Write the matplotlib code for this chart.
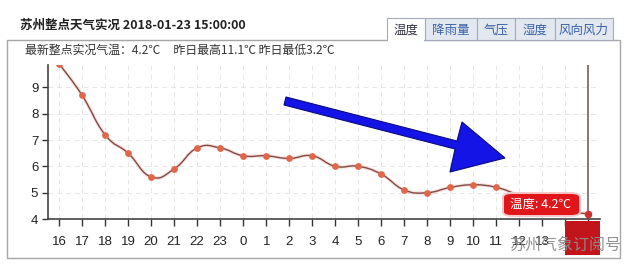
import matplotlib

matplotlib.use("Agg")
import matplotlib.pyplot as plt
import numpy as np
from matplotlib.patches import FancyBboxPatch, Polygon, Rectangle
from matplotlib.path import Path
from matplotlib.patches import PathPatch

CJK = ["Noto Sans CJK SC", "DejaVu Sans"]
LATIN = ["Liberation Sans", "DejaVu Sans"]

hours = [16, 17, 18, 19, 20, 21, 22, 23, 0, 1, 2, 3, 4, 5, 6, 7, 8, 9, 10, 11, 12, 13, 14, 15]
temps = [9.9, 8.7, 7.2, 6.5, 5.6, 5.9, 6.7, 6.7, 6.4, 6.4, 6.3, 6.4, 6.0, 6.0, 5.7,
         5.1, 5.0, 5.2, 5.3, 5.2, 4.9, 4.6, 4.3, 4.2]
y_ticks = [4, 5, 6, 7, 8, 9]
tabs = ["温度", "降雨量", "气压", "湿度", "风向风力"]

W, H = 639, 273
LINE = "#7d4a48"
DOT = "#e0674a"


def fx(x):
    return x / W


def fy(y):
    return 1 - y / H


def smooth_path(xs, ys, k=2.2):
    # spline through the points, control points taken from the neighbours
    verts = [(xs[0], ys[0])]
    codes = [Path.MOVETO]
    n = len(xs)
    for i in range(n - 1):
        x0, y0 = xs[max(i - 1, 0)], ys[max(i - 1, 0)]
        x1, y1 = xs[i], ys[i]
        x2, y2 = xs[i + 1], ys[i + 1]
        x3, y3 = xs[min(i + 2, n - 1)], ys[min(i + 2, n - 1)]
        c1 = (x1 + (x2 - x0) / (2 * k), y1 + (y2 - y0) / (2 * k))
        c2 = (x2 - (x3 - x1) / (2 * k), y2 - (y3 - y1) / (2 * k))
        verts += [c1, c2, (x2, y2)]
        codes += [Path.CURVE4] * 3
    return Path(verts, codes)


fig = plt.figure(figsize=(W / 100, H / 100), dpi=100)
fig.patch.set_facecolor("white")

# header
fig.text(fx(20), fy(25), "苏州整点天气实况 2018-01-23 15:00:00", family=CJK,
         fontsize=9, fontweight="bold", color="#222222", va="center")

# panel border
fig.add_artist(Rectangle((fx(7), fy(258)), fx(613), 218 / H, transform=fig.transFigure,
                         fill=False, ec="#a6a6a6", lw=1.0))
# tabs
tab_x = [387, 425, 477, 515, 555, 613]
for i, name in enumerate(tabs):
    x0, x1 = tab_x[i], tab_x[i + 1]
    face = "white" if i == 0 else "#e3e8f0"
    fig.add_artist(Rectangle((fx(x0), fy(40)), (x1 - x0) / W, 22 / H,
                             transform=fig.transFigure, fc=face, ec="#a3abb8", lw=0.8))
    fig.text(fx((x0 + x1) / 2), fy(30), name, family=CJK, fontsize=9,
             color="#333344" if i == 0 else "#3a62a8", ha="center", va="center")
fig.add_artist(Rectangle((fx(388), fy(41.5)), 36 / W, 3 / H, transform=fig.transFigure,
                         fc="white", ec="none"))

fig.text(fx(25), fy(50), "最新整点实况气温：4.2℃     昨日最高11.1℃ 昨日最低3.2℃",
         family=CJK, fontsize=8.6, color="#333333", va="center")

# chart
ax = fig.add_axes([fx(48), fy(219), (600 - 48) / W, (219 - 65) / H])
x = np.arange(len(hours))
ax.set_xlim(-0.48, 23.5)
ax.set_ylim(4, 9.85)
# the last two labels sit under the red crosshair box
labels = [str(h) for h in hours[:-2]] + ["", ""]
ax.set_xticks(x, labels)
ax.set_yticks(y_ticks)
for lab in ax.get_xticklabels() + ax.get_yticklabels():
    lab.set_family(LATIN)
    lab.set_fontsize(9.5)
    lab.set_color("#222222")
ax.tick_params(axis="x", length=5, width=1, color="#333333", pad=7)
ax.tick_params(axis="y", length=4, width=1, color="#333333", pad=3)
for s in ("top", "right"):
    ax.spines[s].set_visible(False)
for s in ("left", "bottom"):
    ax.spines[s].set_color("#444444")
    ax.spines[s].set_linewidth(1.2)
ax.grid(True, ls=(0, (5, 4)), color="#e6e6e6", lw=0.7)
ax.set_axisbelow(True)

path = smooth_path(list(x), temps)
ax.add_patch(PathPatch(path, fill=False, ec="#f2a898", lw=2.6, alpha=0.35))
ax.add_patch(PathPatch(path, fill=False, ec=LINE, lw=1.0))
ax.scatter(x[:-1], temps[:-1], s=24, color=DOT, zorder=3, lw=0)
ax.scatter(x[-1], temps[-1], s=30, color="#d03030", zorder=4, lw=0)

# crosshair at latest hour
ax.axvline(x[-1], color="#7a6060", lw=1.2, zorder=2)

# blue hand-drawn arrow
arrow = [(286, 97), (457, 141), (462, 122), (505, 158), (450, 172), (455, 149), (284, 105)]
fig.add_artist(Polygon([(fx(a), fy(b)) for a, b in arrow], closed=True,
                       transform=fig.transFigure, fc="#1414e6", ec="#0a0a80", lw=0.8))

# tooltip
fig.add_artist(FancyBboxPatch((fx(503), fy(216)), 77 / W, 23 / H,
                              boxstyle="round,pad=0,rounding_size=0.015",
                              transform=fig.transFigure, fc="#e0161a", ec="#f5c8c8", lw=1.4))
fig.text(fx(541), fy(204.5), f"温度: {temps[-1]}℃", family=CJK, fontsize=9,
         color="white", ha="center", va="center")

# crosshair label box
fig.add_artist(Rectangle((fx(565), fy(255)), 35 / W, 34 / H, transform=fig.transFigure,
                         fc="#c2151b", ec="none"))

# watermark
fig.text(fx(509), fy(245), "苏州气象订阅号", family=CJK, fontsize=11.5,
         color="#8c8c8c", va="center", alpha=0.95)

fig.savefig("out.png", dpi=100)
